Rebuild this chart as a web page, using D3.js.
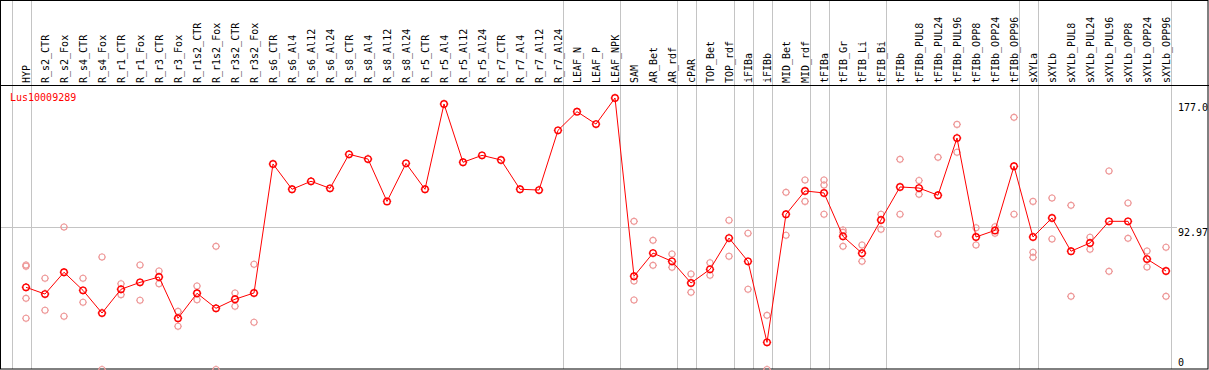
<!DOCTYPE html>
<html>
<head>
<meta charset="utf-8">
<script src="https://cdn.jsdelivr.net/npm/d3@7"></script>
<style>
  body { margin: 0; background: #fff; }
  text { font-family: "DejaVu Sans Mono", monospace; font-size: 10px; }
</style>
</head>
<body>
<div id="chart"></div>
<script>
// categories along the x axis
var categories = ["HYP","R_s2_CTR","R_s2_Fox","R_s4_CTR","R_s4_Fox","R_r1_CTR","R_r1_Fox","R_r3_CTR","R_r3_Fox",
  "R_r1s2_CTR","R_r1s2_Fox","R_r3s2_CTR","R_r3s2_Fox","R_s6_CTR","R_s6_Al4","R_s6_Al12","R_s6_Al24",
  "R_s8_CTR","R_s8_Al4","R_s8_Al12","R_s8_Al24","R_r5_CTR","R_r5_Al4","R_r5_Al12","R_r5_Al24",
  "R_r7_CTR","R_r7_Al4","R_r7_Al12","R_r7_Al24","LEAF_N","LEAF_P","LEAF_NPK","SAM","AR_Bet","AR_rdf",
  "cPAR","TOP_Bet","TOP_rdf","iFIBa","iFIBb","MID_Bet","MID_rdf","tFIBa","tFIB_Gr","tFIB_Li","tFIB_Bi",
  "tFIBb","tFIBb_PUL8","tFIBb_PUL24","tFIBb_PUL96","tFIBb_OPP8","tFIBb_OPP24","tFIBb_OPP96",
  "sXYLa","sXYLb","sXYLb_PUL8","sXYLb_PUL24","sXYLb_PUL96","sXYLb_OPP8","sXYLb_OPP24","sXYLb_OPP96"];

// mean expression per category
var meanValues = [53.6,49.2,63.4,51.6,36.8,52.3,56.8,60.3,33.4,49.7,39.9,45.8,49.9,
  134.0,117.5,122.7,118.1,140.3,137.2,109.6,134.4,117.5,173.1,135.1,139.6,136.6,117.5,117.0,155.9,
  168.1,160.0,177.0,60.8,75.9,70.5,56.4,65.3,85.7,70.5,17.7,101.2,116.4,115.1,86.8,75.8,97.5,
  119.0,118.3,113.6,150.9,86.4,90.7,132.5,86.4,98.8,77.1,82.5,96.6,96.6,72.0,64.2];

// replicate values (empty where only one value)
var replicates = [
  [68.1,67.3,46.4,33.4],[59.5,38.6],[92.9,34.7],[59.5,43.8],[73.3,0],[55.9,48.8],[68.1,45.1],[64.2,55.9],
  [37.9,28.2],[54.4,45.5],[80.3,0],[49.9,41.2],[68.6,30.8],
  [],[],[],[],[],[],[],[],[],[],[],[],[],[],[],[],[],[],[],
  [96.6,57.7,45.3],[84.2,67.9],[75.3,66.6],[62.3,50.3],[69.6,61.4],[97.3,73.8],[88.8,52.3],[35.3,0],
  [115.5,87.5],[123.5,109.6],[123.5,120.3,101.2],[90.9,89.4,80.3],[81.2,70.5],[101.2,91.4],
  [137.0,101.2],[123.2,114.2],[138.3,88.3],[159.8,141.6],[92.4,81.2],[93.1,88.8],[164.4,101.2],
  [109.6,76.4,73.1],[111.8,85.1],[107.0,47.7],[86.2,78.4],[129.4,64.0],[108.5,85.5],[77.3,66.8],[79.7,47.7]];

// a grey line is drawn after each of these
var groupEnds = ["HYP","R_r7_Al24","LEAF_NPK","AR_rdf","cPAR","TOP_rdf","iFIBa","iFIBb","MID_rdf",
  "tFIBa","tFIB_Bi","tFIBb_OPP96","sXYLa","sXYLb_OPP96"];

var yTicks = [0, 92.97, 177];
var yTickLabels = ["0", "92.97", "177.0"];
var geneName = "Lus10009289";

var width = 1209, height = 370;
var svg = d3.select('#chart').append('svg')
  .attr('width', width)
  .attr('height', height);

svg.append('rect').attr('width', width).attr('height', height).attr('fill', '#fff');

var x = d3.scalePoint().domain(categories).range([26, 1166]);
var y = d3.scaleLinear().domain([0, 177]).range([369.5, 98]);
var step = x.step();

// group separators
var sepX = [x(categories[0]) - step].concat(groupEnds.map(c => x(c)))
  .map(v => Math.round(v + 4.5) + 0.5);
svg.append('g').selectAll('line').data(sepX).join('line')
  .attr('x1', d => d).attr('x2', d => d)
  .attr('y1', 0).attr('y2', 369)
  .attr('stroke', '#c4c4c4').attr('stroke-width', 1);

// mean reference line
svg.append('line')
  .attr('x1', 1).attr('x2', 1177)
  .attr('y1', Math.round(y(92.97)) + 0.5).attr('y2', Math.round(y(92.97)) + 0.5)
  .attr('stroke', '#c4c4c4');

// frame
svg.append('rect').attr('x', 0.5).attr('y', 0.5).attr('width', 1207.5).attr('height', 368.5)
  .attr('fill', 'none').attr('stroke', '#000');
svg.append('line').attr('x1', 0).attr('x2', width).attr('y1', 85.5).attr('y2', 85.5).attr('stroke', '#000');

// category labels
svg.append('g').selectAll('text').data(categories).join('text')
  .attr('transform', d => 'translate(' + (x(d) + 3.5) + ',83) rotate(-90)')
  .attr('fill', '#000')
  .text(d => d);

// right labels
var labelDy = [-4, 9, 13];
svg.append('g').selectAll('text').data(yTicks).join('text')
  .attr('x', 1178)
  .attr('y', (d, i) => y(d) + labelDy[i])
  .attr('fill', '#000')
  .text((d, i) => yTickLabels[i]);

svg.append('text').attr('x', 10).attr('y', 101).attr('fill', '#ff0000').text(geneName);

function marker(r) {
  return 'M' + (-r) + ',0a' + r + ',' + r + ' 0 1,0 ' + (2 * r) + ',0a' + r + ',' + r + ' 0 1,0 ' + (-2 * r) + ',0' +
    'M0,' + (-r - 1) + 'v1M0,' + r + 'v1M' + (-r - 1) + ',0h1M' + r + ',0h1';
}

// replicate points
var reps = [];
replicates.forEach((arr, i) => arr.forEach(v => reps.push({c: categories[i], v: v})));
svg.append('g').selectAll('path').data(reps).join('path')
  .attr('transform', d => 'translate(' + x(d.c) + ',' + y(d.v) + ')')
  .attr('d', marker(3))
  .attr('fill', 'none')
  .attr('stroke', '#ee9a9a')
  .attr('stroke-width', 1.1);

// mean line
var line = d3.line().x((d, i) => x(categories[i])).y(d => y(d));
svg.append('path').datum(meanValues)
  .attr('d', line)
  .attr('fill', 'none')
  .attr('stroke', '#ff0000')
  .attr('stroke-width', 1);

svg.append('g').selectAll('path').data(meanValues).join('path')
  .attr('transform', (d, i) => 'translate(' + x(categories[i]) + ',' + y(d) + ')')
  .attr('d', marker(3.2))
  .attr('fill', 'none')
  .attr('stroke', '#ff0000')
  .attr('stroke-width', 1.4);
</script>
</body>
</html>
